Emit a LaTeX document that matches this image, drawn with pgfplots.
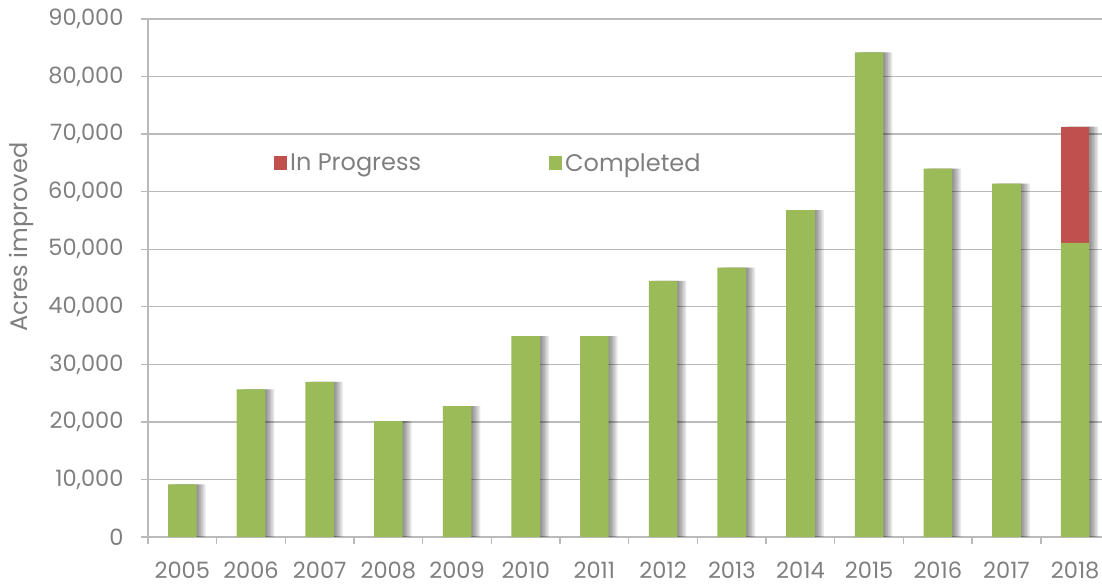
\documentclass[border=0pt]{standalone}
\usepackage{fontspec}
\setmainfont{Poppins}
\usepackage{pgfplots}
\pgfplotsset{compat=1.18}
\definecolor{cgreen}{HTML}{9BBB59}
\definecolor{cred}{HTML}{C0504D}
\definecolor{cgrid}{HTML}{BABABA}
\definecolor{ctext}{HTML}{7F7F7F}
\pgfplotstableread{
x tot comp
0 9150 9150
1 25650 25650
2 26950 26950
3 20150 20150
4 22750 22750
5 34900 34900
6 34900 34900
7 44500 44500
8 46800 46800
9 56800 56800
10 84200 84200
11 64000 64000
12 61400 61400
13 71300 51100
}\data
\pgfplotstableread{
x prog
13 71300
}\prog
\begin{document}
\begin{tikzpicture}
\begin{axis}[
  at={(148bp,49bp)}, anchor=south west,
  scale only axis, width=961.5bp, height=518bp,
  ybar, bar width=28.6bp,
  xmin=-0.5, xmax=13.5, ymin=0, ymax=90000,
  xtick={-0.5,0.5,...,13.5},
  x tick label as interval,
  xticklabels={2005,2006,2007,2008,2009,2010,2011,2012,2013,2014,2015,2016,2017,2018},
  ytick={0,10000,...,90000},
  scaled y ticks=false,
  /pgf/number format/.cd, 1000 sep={,}, assume math mode=true, /pgfplots/.cd,
  axis x line*=bottom, axis y line*=left,
  axis line style={cgrid, line width=1.4bp, -},
  ymajorgrids, grid style={cgrid, line width=1.4bp},
  tick align=outside, major tick length=7bp,
  tick style={cgrid, line width=1.4bp},
  ticklabel style={font=\fontsize{22.5bp}{27bp}\selectfont, text=ctext},
  xticklabel style={text height=16bp, text depth=0bp, yshift=-15bp},
  yticklabel style={xshift=-14bp},
  ylabel={Acres improved},
  ylabel style={at={(axis description cs:-0.132,0.579)}, anchor=center, rotate=0, font=\fontsize{24bp}{28bp}\selectfont, text=ctext},
  legend style={at={(axis description cs:0.131,0.722)}, anchor=west, draw=none, fill=none,
    inner sep=0pt, font=\fontsize{24bp}{28bp}\selectfont, text=ctext, nodes={inner xsep=3bp}},
  legend columns=2,
  /tikz/every even column/.append style={column sep=125bp},
]
\pgfplotsinvokeforeach{1.5,3,4.5,6,7.5,9}{
  \addplot[forget plot, fill=black, draw=none, opacity=0.085, bar shift=#1bp] table[x=x,y=tot]{\data};
}
\addplot[fill=cred, draw=none, bar shift=0pt,
  legend image code/.code={\fill[cred] (0bp,-6.5bp) rectangle (13bp,6.5bp);}] table[x=x,y=prog]{\prog};
\addlegendentry{In Progress}
\addplot[fill=cgreen, draw=none, bar shift=0pt,
  legend image code/.code={\fill[cgreen] (0bp,-6.5bp) rectangle (13bp,6.5bp);}] table[x=x,y=comp]{\data};
\addlegendentry{Completed}
\end{axis}
\pgfresetboundingbox
\path[use as bounding box] (0,0) rectangle (1102bp,586bp);
\end{tikzpicture}
\end{document}
